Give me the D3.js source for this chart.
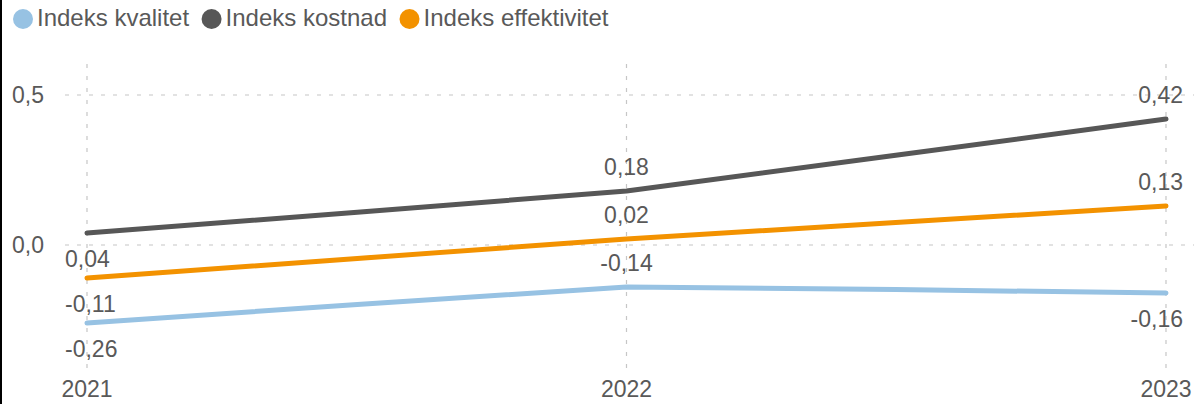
<!DOCTYPE html>
<html lang="no">
<head>
<meta charset="utf-8">
<title>Indeks kvalitet, kostnad og effektivitet</title>
<style>
  html, body { margin: 0; padding: 0; background: #fff; }
  svg { display: block; }
  text { font-family: "Liberation Sans", Arial, sans-serif; fill: #595959; }
</style>
</head>
<body>
<svg width="1194" height="404"></svg>
<script src="https://cdn.jsdelivr.net/npm/d3@7"></script>
<script>
// data
var years = ["2021", "2022", "2023"];
var kvalitet = [-0.26, -0.14, -0.16];
var kostnad = [0.04, 0.18, 0.42];
var effektivitet = [-0.11, 0.02, 0.13];
var yTicks = [0, 0.5];
var seriesNames = ["Indeks kvalitet", "Indeks kostnad", "Indeks effektivitet"];

var series = [
  { name: seriesNames[0], values: kvalitet, color: "#97c2e3", side: ["below", "above", "below"] },
  { name: seriesNames[1], values: kostnad, color: "#575757", side: ["below", "above", "above"] },
  { name: seriesNames[2], values: effektivitet, color: "#f39200", side: ["below", "above", "above"] }
];

var svg = d3.select("svg"),
    width = +svg.attr("width"),
    height = +svg.attr("height");

var fontSize = 23;

// norwegian number format, plain hyphen as minus
var nb = d3.formatLocale({ decimal: ",", thousands: " ", grouping: [3], currency: ["", " kr"], minus: "-" });
var fmt1 = nb.format(".1f"), fmt2 = nb.format(".2f");

var plotTop = 64, plotBottom = 368, plotLeft = 65;

var x = d3.scalePoint().domain(years).range([87, 1166]);
var y = d3.scaleLinear().domain([-0.41, 0.6033]).range([plotBottom, plotTop]);

// black strip on the left edge
svg.append("rect").attr("x", 0).attr("y", 0).attr("width", 2).attr("height", height).attr("fill", "#000");

// horizontal grid
svg.append("g").selectAll("line").data(yTicks).enter().append("line")
  .attr("x1", plotLeft).attr("x2", width)
  .attr("y1", function(d) { return y(d); }).attr("y2", function(d) { return y(d); })
  .attr("stroke", "#c6c6c6").attr("stroke-width", 1.2).attr("stroke-dasharray", "4,8");

// vertical grid
svg.append("g").selectAll("line").data(years).enter().append("line")
  .attr("x1", function(d) { return x(d); }).attr("x2", function(d) { return x(d); })
  .attr("y1", plotTop).attr("y2", plotBottom)
  .attr("stroke", "#c6c6c6").attr("stroke-width", 1.2).attr("stroke-dasharray", "4,8");

// y tick labels
svg.append("g").selectAll("text").data(yTicks).enter().append("text")
  .attr("x", 12).attr("y", function(d) { return y(d); })
  .attr("dy", "0.35em")
  .style("font-size", fontSize + "px")
  .text(function(d) { return fmt1(d); });

// x tick labels
svg.append("g").selectAll("text").data(years).enter().append("text")
  .attr("x", function(d) { return x(d); }).attr("y", 397)
  .attr("text-anchor", "middle")
  .style("font-size", fontSize + "px")
  .text(function(d) { return d; });

// lines, only a slight rounding at the middle point
var line = d3.line()
  .x(function(d, i) { return x(years[i]); })
  .y(function(d) { return y(d); })
  .curve(d3.curveCardinal.tension(0.85));

svg.append("g").selectAll("path").data(series).enter().append("path")
  .attr("d", function(s) { return line(s.values); })
  .attr("fill", "none")
  .attr("stroke", function(s) { return s.color; })
  .attr("stroke-width", 5)
  .attr("stroke-linecap", "round")
  .attr("stroke-linejoin", "round");

// value labels, kept inside [65, 1183]
var labels = [];
series.forEach(function(s) {
  s.values.forEach(function(v, i) {
    labels.push({ v: v, year: years[i], side: s.side[i] });
  });
});

svg.append("g").selectAll("text").data(labels).enter().append("text")
  .style("font-size", fontSize + "px")
  .attr("y", function(d) { return y(d.v) + (d.side === "above" ? -16 : 34); })
  .text(function(d) { return fmt2(d.v); })
  .attr("x", function(d) {
    var w = this.getComputedTextLength();
    var left = x(d.year) - w / 2;
    left = Math.max(65, Math.min(1183 - w, left));
    return left;
  });

// legend
var legend = svg.append("g");
var lx = 23;
series.forEach(function(s) {
  legend.append("circle").attr("cx", lx).attr("cy", 19).attr("r", 10).attr("fill", s.color);
  var t = legend.append("text")
    .attr("x", lx + 14).attr("y", 26)
    .style("font-size", "24px")
    .text(s.name);
  lx = lx + 14 + t.node().getComputedTextLength() + 22.5;
});
</script>
</body>
</html>
